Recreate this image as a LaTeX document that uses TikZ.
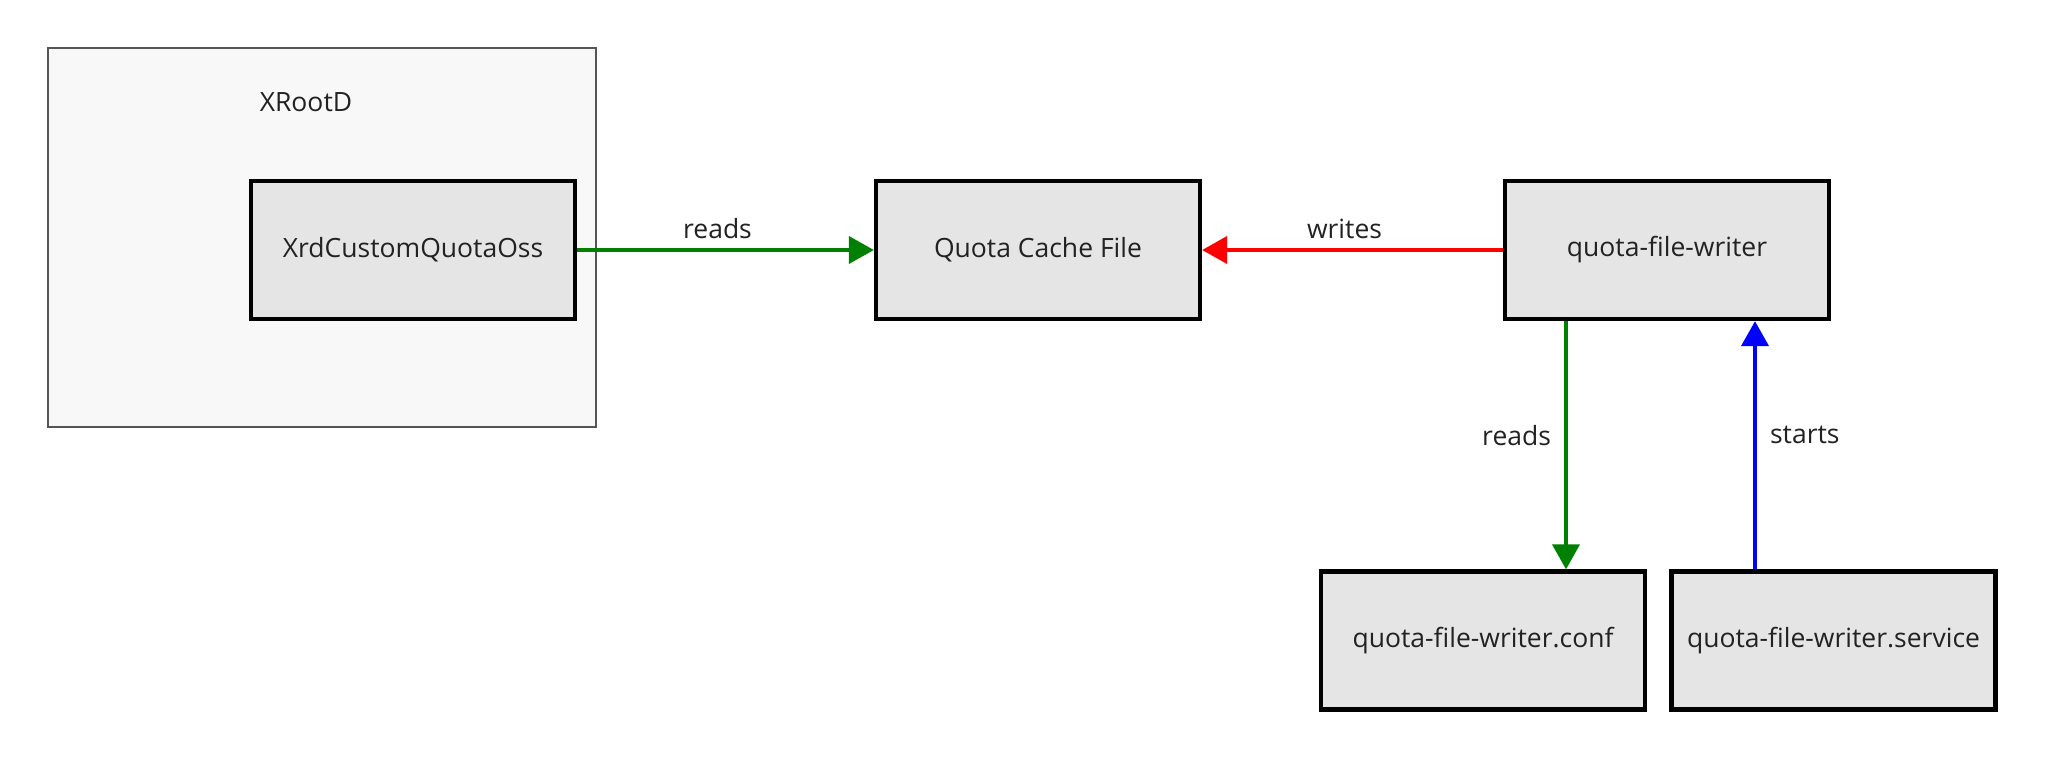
\documentclass[tikz,border=0pt]{standalone}
\usepackage{fontspec}
\setmainfont{Open Sans}
\usetikzlibrary{arrows.meta,calc}
\definecolor{boxfill}{HTML}{E5E5E5}
\definecolor{outerfill}{HTML}{F8F8F8}
\definecolor{outerline}{HTML}{555555}
\definecolor{txt}{HTML}{222222}
\definecolor{ggreen}{HTML}{008000}
\definecolor{rred}{HTML}{FF0000}
\definecolor{bblue}{HTML}{0000FF}
\tikzset{
  compbox/.style={draw=black, line width=4.3pt, fill=boxfill, minimum width=324pt, minimum height=138pt, inner sep=0pt, text=txt, font=\fontsize{26.5}{32}\selectfont},
  lbl/.style={text=txt, font=\fontsize{26.5}{32}\selectfont, inner sep=0pt},
  conn/.style={line width=4pt, -{Triangle[length=25pt,width=27pt]}},
}
\begin{document}
\begin{tikzpicture}[x=1pt,y=-1pt]
\useasboundingbox (0,0) rectangle (2048,761);
\fill[white] (0,0) rectangle (2048,761);
\node[draw=outerline, line width=1.3pt, fill=outerfill, minimum width=548pt, minimum height=379pt, inner sep=0pt] (xrootd) at (322,237.5) {};
\node[lbl] (xrootdlbl) at (306,102) {XRootD};
\node[compbox] (xrd) at (413,250) {XrdCustomQuotaOss};
\node[compbox] (qcf) at (1038,250) {Quota Cache File};
\node[compbox] (qfw) at (1667,250) {quota-file-writer};
\node[compbox] (conf) at (1483,640.5) {quota-file-writer.conf};
\node[compbox] (svc) at (1833.5,640.5) {quota-file-writer.service};
\coordinate (cx1) at (1566,0);
\coordinate (cx2) at (1755,0);
\draw[conn, ggreen] (xrd.east) -- (qcf.west) node[lbl, midway, above=9pt, xshift=-8pt] (l1) {reads};
\draw[conn, rred] (qfw.west) -- (qcf.east) node[lbl, midway, above=9pt, xshift=-8pt] (l2) {writes};
\draw[conn, ggreen] (qfw.south -| cx1) -- (conf.north -| cx1) node[lbl, midway, left=13pt, yshift=10pt] (l3) {reads};
\draw[conn, bblue] (svc.north -| cx2) -- (qfw.south -| cx2) node[lbl, midway, right=13pt, yshift=10pt] (l4) {starts};
\end{tikzpicture}
\end{document}
